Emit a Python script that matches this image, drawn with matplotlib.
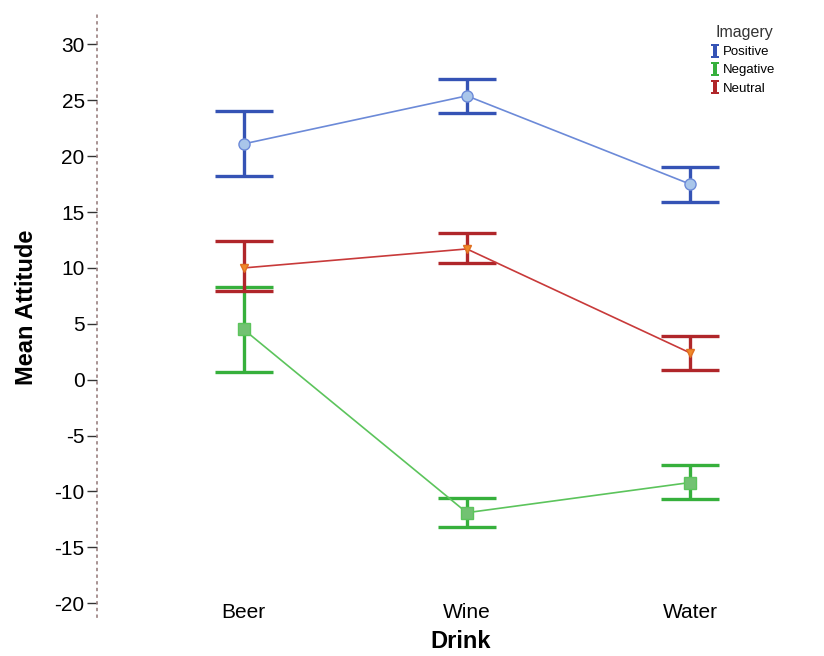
import matplotlib
matplotlib.use("Agg")
import matplotlib.pyplot as plt
from matplotlib.lines import Line2D
from matplotlib.path import Path
import numpy as np

plt.rcParams["font.family"] = ["Liberation Sans", "DejaVu Sans"]

drinks = ["Beer", "Wine", "Water"]
imagery = ["Positive", "Negative", "Neutral"]
means = {
    "Positive": [21.1, 25.4, 17.5],
    "Negative": [4.5, -11.9, -9.2],
    "Neutral": [10.0, 11.7, 2.4],
}
upper = {
    "Positive": [24.0, 26.9, 19.0],
    "Negative": [8.3, -10.6, -7.6],
    "Neutral": [12.4, 13.1, 3.9],
}
lower = {
    "Positive": [18.2, 23.9, 15.9],
    "Negative": [0.7, -13.2, -10.7],
    "Neutral": [7.9, 10.4, 0.9],
}
yticks = [-20, -15, -10, -5, 0, 5, 10, 15, 20, 25, 30]

bar_colors = {"Positive": "#3553b5", "Negative": "#36b03c", "Neutral": "#b0262a"}
line_colors = {"Positive": "#6c8ad8", "Negative": "#5cc45c", "Neutral": "#c83a3a"}
marker_face = {"Positive": "#a9c6ea", "Negative": "#72c272", "Neutral": "#f0892a"}
marker_shape = {"Positive": "o", "Negative": "s", "Neutral": "v"}

fig = plt.figure(figsize=(8.24, 6.56), dpi=100)
ax = fig.add_axes([0.118, 0.06, 0.882, 0.92])

x = np.arange(1, len(drinks) + 1)
for name in ["Negative", "Neutral", "Positive"]:
    m = np.array(means[name])
    lo = m - np.array(lower[name])
    hi = np.array(upper[name]) - m
    ax.errorbar(x, m, yerr=[lo, hi], fmt="none", ecolor=bar_colors[name],
                elinewidth=2.4, capsize=21, capthick=2.4, zorder=2)
    ax.plot(x, m, color=line_colors[name], lw=1.2, zorder=3)
    ax.plot(x, m, linestyle="none", marker=marker_shape[name],
            markersize=8 if name != "Neutral" else 6,
            markerfacecolor=marker_face[name],
            markeredgecolor=line_colors[name] if name != "Neutral" else "#e07020",
            markeredgewidth=1.0, zorder=4)

ax.set_xlim(0.344, 3.6)
ax.set_ylim(-21.2, 32.8)
ax.set_xticks(x)
ax.set_xticklabels(drinks, fontsize=15)
ax.set_yticks(yticks)
ax.set_yticklabels([str(v) for v in yticks], fontsize=15)
ax.tick_params(axis="x", length=0, pad=-10)
ax.tick_params(axis="y", length=7, width=1.0, color="#333333", pad=2)

for s in ["top", "right", "bottom"]:
    ax.spines[s].set_visible(False)
ax.spines["left"].set_linestyle((0, (1, 3)))
ax.spines["left"].set_color("#9a8080")
ax.spines["left"].set_linewidth(1.2)

ax.set_xlabel("Drink", fontsize=17, fontweight="bold", labelpad=6)
ax.set_ylabel("Mean Attitude", fontsize=17, fontweight="bold", labelpad=6)
ax.yaxis.set_label_coords(-0.082, 0.512)

# I-shaped legend marker
iverts = [(-1, 1), (1, 1), (1, 0.68), (0.4, 0.68), (0.4, -0.68), (1, -0.68), (1, -1),
          (-1, -1), (-1, -0.68), (-0.4, -0.68), (-0.4, 0.68), (-1, 0.68), (-1, 1)]
imarker = Path([(vx * 0.6, vy) for vx, vy in iverts],
               [Path.MOVETO] + [Path.LINETO] * 11 + [Path.CLOSEPOLY])
handles = [Line2D([], [], linestyle="none", marker=imarker, markersize=10,
                  markeredgewidth=0, color=bar_colors[n]) for n in imagery]
leg = fig.legend(handles, imagery, title="Imagery", loc="upper right",
                 bbox_to_anchor=(0.955, 0.98), frameon=False, fontsize=9.5,
                 title_fontsize=11.5, handlelength=0.4, handletextpad=0.35,
                 labelspacing=0.45)
leg.get_title().set_color("#333333")

fig.savefig("out.png", dpi=100)
